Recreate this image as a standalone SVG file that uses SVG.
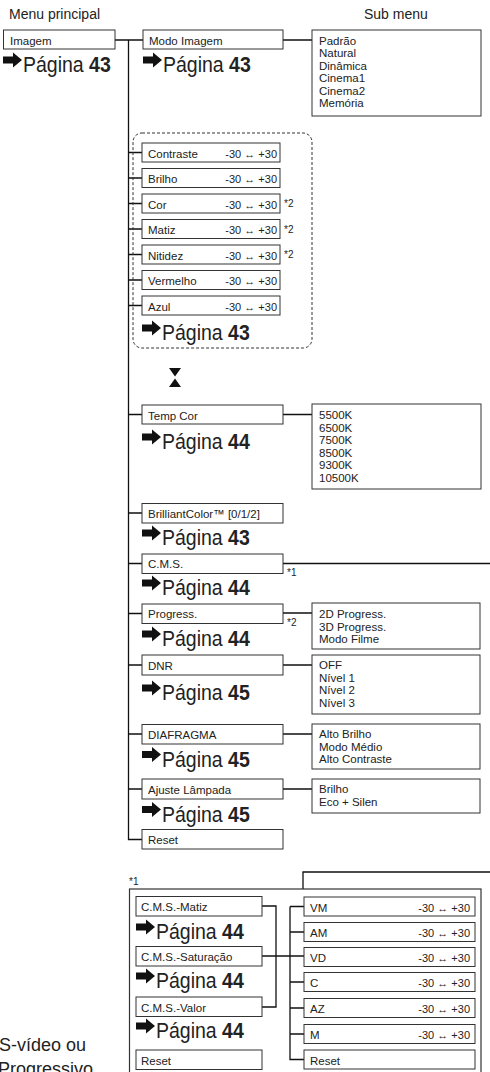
<svg xmlns="http://www.w3.org/2000/svg" xmlns:xlink="http://www.w3.org/1999/xlink" width="490" height="1072" viewBox="0 0 490 1072">
<style>
.b{fill:#fff;stroke:#333;stroke-width:1}
.l{fill:none;stroke:#111;stroke-width:1.3}
text{font-family:"Liberation Sans",Arial,sans-serif;fill:#222}
.t{font-size:11.5px}
.h{font-size:14px}
.p{font-size:19.5px}
.p tspan{font-weight:bold}
.v{font-size:11px;text-anchor:end}
.s{font-size:10px}
.ar{fill:#111}
</style>
<defs>
<path id="arr" class="ar" d="M0,-3.5 H10 V-7.5 L19,0 L10,7.5 V3.5 H0 Z"/>
</defs>
<rect width="490" height="1072" fill="#fff"/>
<text class="h" x="9" y="19">Menu principal</text>
<text class="h" x="364" y="19">Sub menu</text>

<g id="connectors">
<path class="l" d="M115,40 H143 M128.5,40 V839.5 H142"/>
<path class="l" d="M128.5,152.5 H142 M128.5,178 H142 M128.5,203.5 H142 M128.5,229 H142 M128.5,254.5 H142 M128.5,280 H142 M128.5,305.5 H142"/>
<path class="l" d="M128.5,414.5 H142 M128.5,513 H142 M128.5,563.5 H142 M128.5,613.5 H142 M128.5,665 H142 M128.5,734 H142 M128.5,789 H142"/>
<path class="l" d="M283,40 H312 M283,414.5 H312 M283,613 H312 M283,665 H312 M283,734 H312 M283,789 H312"/>
<path class="l" d="M283,563.5 H490 M303,889 V872 H490"/>
<path class="l" d="M262,906 H276 V1007 H262 M262,956 H304 M290,906.5 V1059.5 H304 M290,906.5 H304 M290,932 H304 M290,982 H304 M290,1008 H304 M290,1034 H304"/>
</g>

<g id="imagem">
<rect class="b" x="3.5" y="30" width="111.5" height="19"/>
<text class="t" x="10" y="45">Imagem</text>
<use xlink:href="#arr" x="3" y="60"/>
<text class="p" transform="translate(23,72) scale(1,1.15)">Página <tspan>43</tspan></text>
</g>

<g id="modo-imagem">
<rect class="b" x="143" y="30" width="140" height="19"/>
<text class="t" x="149" y="45">Modo Imagem</text>
<use xlink:href="#arr" x="143" y="60"/>
<text class="p" transform="translate(163,72) scale(1,1.15)">Página <tspan>43</tspan></text>
</g>
<g id="modo-sub">
<rect class="b" x="312" y="30" width="169" height="86"/>
<text class="t" x="319" y="45">Padrão</text>
<text class="t" x="319" y="57.4">Natural</text>
<text class="t" x="319" y="69.8">Dinâmica</text>
<text class="t" x="319" y="82.2">Cinema1</text>
<text class="t" x="319" y="94.6">Cinema2</text>
<text class="t" x="319" y="107">Memória</text>
</g>

<g id="ajustes">
<rect x="133" y="133" width="179" height="215" rx="9" fill="none" stroke="#333" stroke-width="1" stroke-dasharray="3 2"/>
<rect class="b" x="142" y="143" width="138" height="19"/>
<text class="t" x="148" y="157.5">Contraste</text>
<text class="v" x="277" y="157.5">-30 ↔ +30</text>
<rect class="b" x="142" y="168.5" width="138" height="19"/>
<text class="t" x="148" y="183">Brilho</text>
<text class="v" x="277" y="183">-30 ↔ +30</text>
<rect class="b" x="142" y="194" width="138" height="19"/>
<text class="t" x="148" y="208.5">Cor</text>
<text class="v" x="277" y="208.5">-30 ↔ +30</text>
<text class="s" x="284" y="207">*2</text>
<rect class="b" x="142" y="219.5" width="138" height="19"/>
<text class="t" x="148" y="234">Matiz</text>
<text class="v" x="277" y="234">-30 ↔ +30</text>
<text class="s" x="284" y="232.5">*2</text>
<rect class="b" x="142" y="245" width="138" height="19"/>
<text class="t" x="148" y="259.5">Nitidez</text>
<text class="v" x="277" y="259.5">-30 ↔ +30</text>
<text class="s" x="284" y="258">*2</text>
<rect class="b" x="142" y="270.5" width="138" height="19"/>
<text class="t" x="148" y="285">Vermelho</text>
<text class="v" x="277" y="285">-30 ↔ +30</text>
<rect class="b" x="142" y="296" width="138" height="19"/>
<text class="t" x="148" y="310.5">Azul</text>
<text class="v" x="277" y="310.5">-30 ↔ +30</text>
<use xlink:href="#arr" x="142" y="328"/>
<text class="p" transform="translate(162,340) scale(1,1.15)">Página <tspan>43</tspan></text>
</g>

<g id="hourglass">
<path class="ar" d="M169,368 H181 L175,376.5 Z M175,378.5 L181,387 H169 Z"/>
</g>

<g id="temp-cor">
<rect class="b" x="142" y="405" width="141" height="19"/>
<text class="t" x="148" y="419.5">Temp Cor</text>
<use xlink:href="#arr" x="142" y="437"/>
<text class="p" transform="translate(162,449) scale(1,1.15)">Página <tspan>44</tspan></text>
</g>
<g id="temp-sub">
<rect class="b" x="312" y="404" width="169" height="85"/>
<text class="t" x="319" y="419">5500K</text>
<text class="t" x="319" y="431.5">6500K</text>
<text class="t" x="319" y="444">7500K</text>
<text class="t" x="319" y="456.5">8500K</text>
<text class="t" x="319" y="469">9300K</text>
<text class="t" x="319" y="481.5">10500K</text>
</g>

<g id="brilliant">
<rect class="b" x="142" y="503.5" width="141" height="19.5"/>
<text class="t" x="148" y="518">BrilliantColor™ [0/1/2]</text>
<use xlink:href="#arr" x="142" y="533"/>
<text class="p" transform="translate(162,545) scale(1,1.15)">Página <tspan>43</tspan></text>
</g>

<g id="cms">
<rect class="b" x="142" y="554" width="141" height="19.5"/>
<text class="t" x="148" y="568">C.M.S.</text>
<text class="s" x="287" y="576">*1</text>
<use xlink:href="#arr" x="142" y="583"/>
<text class="p" transform="translate(162,595) scale(1,1.15)">Página <tspan>44</tspan></text>
</g>

<g id="progress">
<rect class="b" x="142" y="604" width="141" height="19.5"/>
<text class="t" x="148" y="618">Progress.</text>
<text class="s" x="287" y="626">*2</text>
<use xlink:href="#arr" x="142" y="634"/>
<text class="p" transform="translate(162,646) scale(1,1.15)">Página <tspan>44</tspan></text>
</g>
<g id="progress-sub">
<rect class="b" x="312" y="603" width="168" height="46"/>
<text class="t" x="319" y="618.3">2D Progress.</text>
<text class="t" x="319" y="630.8">3D Progress.</text>
<text class="t" x="319" y="643.3">Modo Filme</text>
</g>

<g id="dnr">
<rect class="b" x="142" y="655" width="141" height="20"/>
<text class="t" x="148" y="669.5">DNR</text>
<use xlink:href="#arr" x="142" y="688"/>
<text class="p" transform="translate(162,700) scale(1,1.15)">Página <tspan>45</tspan></text>
</g>
<g id="dnr-sub">
<rect class="b" x="312" y="655" width="168" height="59"/>
<text class="t" x="319" y="669">OFF</text>
<text class="t" x="319" y="681.7">Nível 1</text>
<text class="t" x="319" y="694.4">Nível 2</text>
<text class="t" x="319" y="707.1">Nível 3</text>
</g>

<g id="diafragma">
<rect class="b" x="142" y="724.5" width="141" height="19.5"/>
<text class="t" x="148" y="739">DIAFRAGMA</text>
<use xlink:href="#arr" x="142" y="754.5"/>
<text class="p" transform="translate(162,766.5) scale(1,1.15)">Página <tspan>45</tspan></text>
</g>
<g id="diafragma-sub">
<rect class="b" x="312" y="724" width="168" height="45"/>
<text class="t" x="319" y="738">Alto Brilho</text>
<text class="t" x="319" y="750.7">Modo Médio</text>
<text class="t" x="319" y="763.4">Alto Contraste</text>
</g>

<g id="lampada">
<rect class="b" x="142" y="779" width="141" height="20"/>
<text class="t" x="148" y="793.5">Ajuste Lâmpada</text>
<use xlink:href="#arr" x="142" y="809.5"/>
<text class="p" transform="translate(162,821.5) scale(1,1.15)">Página <tspan>45</tspan></text>
</g>
<g id="lampada-sub">
<rect class="b" x="312" y="779" width="168" height="34"/>
<text class="t" x="319" y="793">Brilho</text>
<text class="t" x="319" y="805.7">Eco + Silen</text>
</g>

<g id="reset">
<rect class="b" x="142" y="829.5" width="141" height="19.5"/>
<text class="t" x="148" y="844">Reset</text>
</g>

<text class="s" x="129" y="885">*1</text>
<rect x="129.5" y="889" width="351.5" height="200" fill="none" stroke="#333" stroke-width="1.2"/>

<g id="cms-matiz">
<rect class="b" x="136" y="896.5" width="126" height="19.5"/>
<text class="t" x="141" y="911">C.M.S.-Matiz</text>
<use xlink:href="#arr" x="136" y="927"/>
<text class="p" transform="translate(156,939) scale(1,1.15)">Página <tspan>44</tspan></text>
</g>
<g id="cms-saturacao">
<rect class="b" x="136" y="946.5" width="126" height="19.5"/>
<text class="t" x="141" y="961">C.M.S.-Saturação</text>
<use xlink:href="#arr" x="136" y="976"/>
<text class="p" transform="translate(156,988) scale(1,1.15)">Página <tspan>44</tspan></text>
</g>
<g id="cms-valor">
<rect class="b" x="136" y="997" width="126" height="19.5"/>
<text class="t" x="141" y="1011.5">C.M.S.-Valor</text>
<use xlink:href="#arr" x="136" y="1026"/>
<text class="p" transform="translate(156,1038) scale(1,1.15)">Página <tspan>44</tspan></text>
</g>
<g id="cms-reset">
<rect class="b" x="136" y="1050" width="126" height="19.5"/>
<text class="t" x="141" y="1064.5">Reset</text>
</g>

<g id="vm"><rect class="b" x="304" y="897" width="171" height="19"/><text class="t" x="310" y="911.5">VM</text><text class="v" x="470" y="911.5">-30 ↔ +30</text></g>
<g id="am"><rect class="b" x="304" y="922.5" width="171" height="19"/><text class="t" x="310" y="937">AM</text><text class="v" x="470" y="937">-30 ↔ +30</text></g>
<g id="vd"><rect class="b" x="304" y="947.5" width="171" height="19"/><text class="t" x="310" y="962">VD</text><text class="v" x="470" y="962">-30 ↔ +30</text></g>
<g id="c"><rect class="b" x="304" y="972.5" width="171" height="19"/><text class="t" x="310" y="987">C</text><text class="v" x="470" y="987">-30 ↔ +30</text></g>
<g id="az"><rect class="b" x="304" y="998.5" width="171" height="19"/><text class="t" x="310" y="1013">AZ</text><text class="v" x="470" y="1013">-30 ↔ +30</text></g>
<g id="m"><rect class="b" x="304" y="1024.5" width="171" height="19"/><text class="t" x="310" y="1039">M</text><text class="v" x="470" y="1039">-30 ↔ +30</text></g>
<g id="rgb-reset"><rect class="b" x="304" y="1050" width="171" height="19"/><text class="t" x="310" y="1064.5">Reset</text></g>

<text x="-1" y="1051" style="font-size:18px">S-vídeo ou</text>
<text x="-2" y="1075" style="font-size:18px">Progressivo</text>
</svg>
